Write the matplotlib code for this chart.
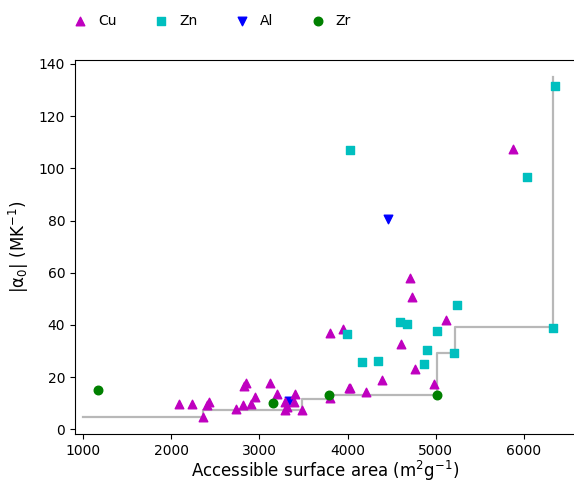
import matplotlib
matplotlib.use("Agg")
import matplotlib.pyplot as plt

# Cu
cu_x = [2089, 2236, 2357, 2430, 2410, 2845, 2830, 2735, 2811, 2901, 2950, 3115,
        3196, 3291, 3310, 3294, 3404, 3393, 3487, 3801, 4017, 3801, 3952, 4606,
        4761, 4391, 4028, 4206, 4980, 5112, 4708, 4727, 5876]
cu_y = [9.6, 9.6, 4.7, 10.6, 9.4, 17.6, 16.6, 7.6, 9.2, 9.6, 12.2, 17.6,
        13.4, 10.3, 8.4, 7.4, 13.4, 10.3, 7.4, 11.9, 15.7, 37.0, 38.5, 32.5,
        23.0, 18.7, 15.7, 14.3, 17.2, 41.8, 58.0, 50.8, 107.5]

# Zn
zn_x = [4028, 6031, 6352, 6333, 5245, 5011, 4897, 4865, 5211, 4595, 4670, 3997,
        4160, 4341]
zn_y = [107.1, 96.7, 131.6, 38.9, 47.6, 37.6, 30.3, 25.1, 29.3, 41.0, 40.2, 36.6,
        25.9, 26.3]

# Al
al_x = [3340, 4460]
al_y = [11.0, 80.5]

# Zr
zr_x = [1170, 3158, 3793, 5010]
zr_y = [14.9, 10.2, 13.0, 13.3]

# upper bound step line
step_x = [1000, 2365, 3487, 3793, 5010, 5215, 6333]
step_y = [4.7, 7.4, 11.7, 13.3, 29.3, 39.1, 135]

fig = plt.figure(figsize=(5.74, 4.82), dpi=100)
ax = fig.add_axes([75 / 574, 48 / 482, 501 / 574, 374 / 482])

ax.step(step_x, step_y, where='post', color='#b8b8b8', lw=1.6, zorder=1)

ms = 38
ax.scatter(cu_x, cu_y, marker='^', c='m', s=ms, label='Cu', zorder=2)
ax.scatter(zn_x, zn_y, marker='s', c='c', s=ms, label='Zn', zorder=2)
ax.scatter(al_x, al_y, marker='v', c='b', s=ms, label='Al', zorder=1.5)
ax.scatter(zr_x, zr_y, marker='o', c='g', s=ms, label='Zr', zorder=2)

ax.set_xlim(909, 6590)
ax.set_ylim(-1.8, 141.5)
ax.set_xticks([1000, 2000, 3000, 4000, 5000, 6000])
ax.set_yticks(range(0, 141, 20))

ax.set_xlabel('Accessible surface area (m$^2$g$^{\\mathregular{-1}}$)', fontsize=12, labelpad=1)
ax.set_ylabel('|α$_0$| (MK$^{\\mathregular{-1}}$)', fontsize=12, labelpad=6)

fig.legend(loc='center left', bbox_to_anchor=(0.125, 1 - 21 / 482), ncol=4,
           frameon=False, borderpad=0, borderaxespad=0, handlelength=1.2,
           handletextpad=0.7, columnspacing=2.6, fontsize=10)

fig.savefig('out.png', dpi=100)
